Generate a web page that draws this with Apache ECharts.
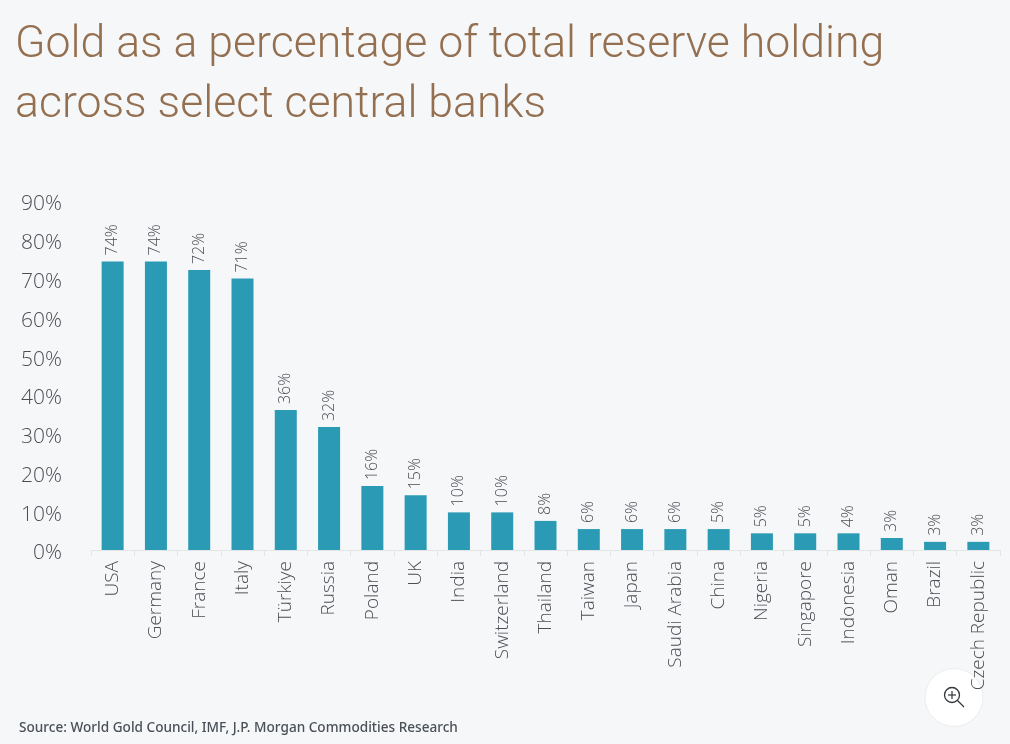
<!DOCTYPE html>
<html lang="en">
<head>
<meta charset="utf-8">
<title>Gold reserves</title>
<script src="https://cdn.jsdelivr.net/npm/echarts@6/dist/echarts.min.js"></script>
<style>
html,body{margin:0;padding:0;background:#f5f7f9;}
#main{width:1010px;height:744px;}
</style>
</head>
<body>
<div id="main"></div>
<script type="text/javascript">
var countries = ['USA','Germany','France','Italy','Türkiye','Russia','Poland','UK','India','Switzerland','Thailand','Taiwan','Japan','Saudi Arabia','China','Nigeria','Singapore','Indonesia','Oman','Brazil','Czech Republic'];
// bar heights as drawn in the picture
var heights = [74.4,74.4,72.2,70,36.1,31.7,16.5,14.1,9.7,9.7,7.5,5.4,5.4,5.4,5.4,4.3,4.3,4.3,3.1,2.1,2.1];
// printed labels, these are a bit different from the bar heights
var printed = [74,74,72,71,36,32,16,15,10,10,8,6,6,6,5,5,5,4,3,3,3];
var titleLines = ['Gold as a percentage of total reserve holding','across select central banks'];
var sourceText = 'Source: World Gold Council, IMF, J.P. Morgan Commodities Research';

var font = '"Open Sans"';
var myChart = echarts.init(document.getElementById('main'));
var option = {
    backgroundColor:'#f5f7f9',
    animation:false,
    title:[{
        text:titleLines.join('\n'),
        left:15,
        top:16,
        padding:0,
        textStyle:{fontFamily:'Roboto',fontWeight:300,fontSize:44.6,lineHeight:60,color:'#946f50'}
    },{
        text:sourceText,
        left:19,
        top:721,
        padding:0,
        textStyle:{fontFamily:'"Noto Sans"',fontWeight:500,fontSize:13.6,color:'#4a5058'}
    }],
    grid:{left:91,right:10,top:201,height:349},
    xAxis:{
        type:'category',
        data:countries,
        axisLine:{lineStyle:{color:'#e3e4e4',width:1}},
        axisTick:{show:true,length:6,lineStyle:{color:'#e3e4e4'}},
        axisLabel:{rotate:90,interval:0,margin:11,fontFamily:font,fontWeight:300,fontSize:19,color:'#4a4f55'}
    },
    yAxis:{
        type:'value',
        min:0,
        max:90,
        interval:10,
        axisLine:{show:false},
        axisTick:{show:false},
        splitLine:{show:false},
        axisLabel:{
            formatter:'{t|{value}%}',
            margin:29,
            rich:{t:{padding:[7,0,0,0],fontFamily:font,fontWeight:300,fontSize:21,color:'#4a4f55'}}
        }
    },
    series:[{
        type:'bar',
        data:heights,
        barWidth:22,
        itemStyle:{color:'#2b9ab4'},
        label:{
            show:true,
            position:'top',
            rotate:90,
            distance:6,
            align:'left',
            verticalAlign:'middle',
            fontFamily:font,
            fontWeight:300,
            fontSize:16,
            color:'#4a4f55',
            formatter:function(p){return printed[p.dataIndex]+'%';}
        }
    }],
    // zoom button sitting over the chart
    graphic:[{
        type:'group',
        z:100,
        children:[
            {type:'circle',shape:{cx:954,cy:697.5,r:29},style:{fill:'#ffffff',stroke:'#eceded',lineWidth:1}},
            {type:'circle',shape:{cx:952,cy:695,r:7.5},style:{fill:'none',stroke:'#33373b',lineWidth:1.3}},
            {type:'line',shape:{x1:948,y1:695,x2:956,y2:695},style:{stroke:'#33373b',lineWidth:1.2}},
            {type:'line',shape:{x1:952,y1:691,x2:952,y2:699},style:{stroke:'#33373b',lineWidth:1.2}},
            {type:'line',shape:{x1:957.5,y1:700.5,x2:964,y2:707},style:{stroke:'#33373b',lineWidth:1.3}}
        ]
    }]
};
myChart.setOption(option);
</script>
</body>
</html>
